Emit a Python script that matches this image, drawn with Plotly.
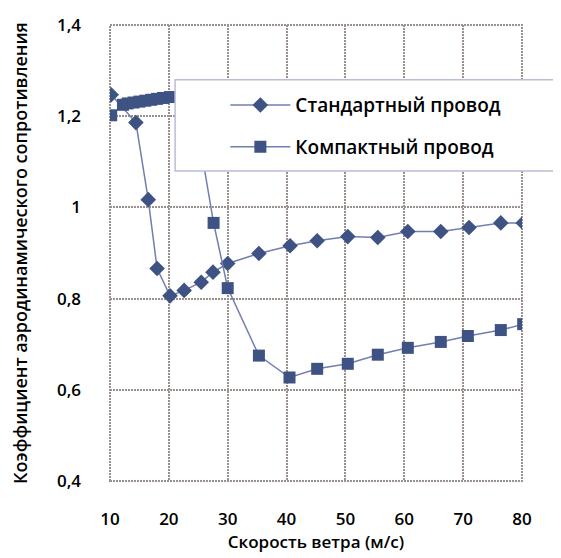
import plotly.graph_objects as go

# ---- data ----
std_name = "Стандартный провод"
std_x = [10.2, 14.4, 16.5, 18.0, 20.2, 22.6, 25.5, 27.5, 30.0, 35.3, 40.6, 45.2, 50.4,
         55.5, 60.6, 66.2, 71.0, 76.4, 80.2]
std_y = [1.247, 1.186, 1.017, 0.866, 0.806, 0.818, 0.836, 0.858, 0.877, 0.899, 0.916,
         0.927, 0.936, 0.934, 0.947, 0.947, 0.956, 0.966, 0.966]

cmp_name = "Компактный провод"
cmp_x = [10.2, 12.2, 13.0, 14.0, 15.0, 16.0, 17.0, 18.0, 19.0, 20.2, 22.7, 25.5, 27.6,
         30.0, 35.3, 40.5, 45.2, 50.4, 55.5, 60.6, 66.2, 70.8, 76.4, 80.2]
cmp_y = [1.202, 1.225, 1.228, 1.230, 1.232, 1.234, 1.236, 1.238, 1.240, 1.242, 1.245,
         1.125, 0.966, 0.823, 0.675, 0.627, 0.646, 0.657, 0.677, 0.692, 0.705, 0.718,
         0.731, 0.744]

x_ticks = [10, 20, 30, 40, 50, 60, 70, 80]
y_ticks = [0.4, 0.6, 0.8, 1.0, 1.2, 1.4]

x_title = "Скорость ветра (м/с)"
y_title = "Коэффициент аэродинамического сопротивления"

LINE = "#6f7fae"
MARK = "#3e5283"
GRID = "#9a918c"
GRID_DASH = "2px,1px"
FONT = "Open Sans"

fig = go.Figure()
fig.add_trace(go.Scatter(
    x=std_x, y=std_y, name=std_name, mode="lines+markers", legendgroup="a",
    line=dict(color=LINE, width=1.5),
    marker=dict(symbol="diamond", size=12, color=MARK, line=dict(width=0)),
))
fig.add_trace(go.Scatter(
    x=cmp_x, y=cmp_y, name=cmp_name, mode="lines+markers", legendgroup="b",
    line=dict(color=LINE, width=1.5),
    marker=dict(symbol="square", size=12, color=MARK, line=dict(width=0)),
))

# dotted frame around the plotting area (edge grid lines)
fig.add_shape(type="rect", xref="x domain", yref="y domain", x0=0, x1=1, y0=0, y1=1,
              layer="below", line=dict(color=GRID, width=2, dash=GRID_DASH))

# legend panel (white box covering the plot, extending past the right edge)
fig.add_shape(type="rect", xref="paper", yref="paper", x0=0.158, x1=1.3,
              y0=0.680, y1=0.880, layer="above",
              fillcolor="white", line=dict(color="#b9bdd6", width=1.5))

fig.update_layout(
    width=561, height=558,
    margin=dict(l=102, r=47, t=17, b=85, autoexpand=False),
    paper_bgcolor="white", plot_bgcolor="white",
    separators=", ",
    font=dict(family=FONT, color="black", size=16, weight=600),
    showlegend=True,
    legend=dict(x=0.28, y=0.866, xanchor="left", yanchor="top",
                bgcolor="rgba(0,0,0,0)", borderwidth=0,
                tracegroupgap=14, itemwidth=60,
                font=dict(family=FONT, size=19, color="black", weight=600)),
    xaxis=dict(range=[10, 80], tickvals=x_ticks, showgrid=True, gridcolor=GRID,
               griddash=GRID_DASH, gridwidth=2, zeroline=False, automargin=False,
               showline=False,
               ticks="", ticklabelstandoff=26,
               tickfont=dict(size=17),
               title=dict(text=x_title, standoff=2, font=dict(size=17))),
    yaxis=dict(range=[0.4, 1.4], tickvals=y_ticks, showgrid=True, gridcolor=GRID,
               griddash=GRID_DASH, gridwidth=2, zeroline=False, automargin=False,
               showline=False,
               ticks="", ticklabelstandoff=28,
               tickfont=dict(size=17),
               title=dict(text=y_title, standoff=30, font=dict(size=18))),
)

fig.write_html("out.html")
